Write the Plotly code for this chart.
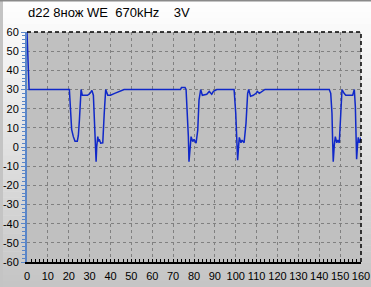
import plotly.graph_objects as go

# ---- data ----
x_vals = [0, 0.5, 1, 20.3, 21.1, 21.4, 22.2, 23, 24.1, 24.6, 25.1, 25.9,
          26.5, 27.5, 29, 30.2, 31.1, 31.8, 32.1, 32.6, 33.1, 33.4, 33.9, 34.3, 34.6,
          35.3, 36.3, 37, 37.7, 38.7, 40, 42, 43, 45.3, 46.5, 48, 55, 65, 73.5,
          74, 75.7, 76.2, 76.8, 77.3, 77.6, 78.1, 78.6, 79.4, 80, 81, 81.8, 82.4,
          83.2, 84, 86.1, 87.3, 88.5, 89.3, 90.9, 95, 99.2, 100, 100.4, 100.9,
          101.4, 101.7, 102.5, 103, 104, 104.9, 105.7, 106.2, 107.1, 108.4, 109.7,
          110.3, 111.3, 112.4, 114, 120, 130, 140, 144.8, 145.5, 146.1, 146.4,
          146.7, 147.2, 147.7, 148.4, 148.9, 149.6, 150.3, 150.9, 151.9, 152.7,
          156, 156.8, 157.3, 157.6, 157.9, 158.4, 158.7, 159.2, 159.7, 160]
y_vals = [60, 43, 30, 30, 15, 9, 5.4, 3, 3, 6, 14, 30,
          27, 27, 27, 28, 29.5, 27, 17.6, 3.6, -7.7, 0.2, 5.4, 2.8, 4,
          2, 2.2, 17.6, 30, 27, 27, 28, 28.5, 29.4, 30, 30, 30, 30, 30,
          31, 31, 30, 19.3, 5.4, -7.7, 1, 5.4, 2.8, 4, 2, 8.9, 24.5,
          30, 27, 27.5, 29, 27.5, 29, 30, 30, 30, 17.6, 3.6, -6.9,
          1, 5, 2.2, 3.6, 2.2, 12.2, 28, 30, 26.5, 27, 28,
          29, 28, 29, 30, 30, 30, 30, 30, 28, 17.6, 3.6,
          -7.7, 1, 5.4, 2.2, 3.6, 2.2, 14, 30, 28, 27,
          27, 30, 21, 7, -6.4, 2, 5, 2.2, 4.5, 5]

x_ticks = list(range(0, 161, 10))
y_ticks = list(range(-60, 61, 10))
title_text = "d22 8нож WE\u00a0\u00a0670kHz\u00a0\u00a0\u00a0\u00a03V"

# ---- layout geometry (pixels) ----
W, H = 371, 287
L, R, T, B = 27, 10, 32, 25
pw, ph = W - L - R, H - T - B


def px_x(p):
    return (p - L) / pw


def px_y(p):
    return (H - B - p) / ph


shapes = []
# vertical gradient background (white -> gray)
n = 48
for i in range(n):
    y0p = H * i / n
    y1p = H * (i + 1) / n + 0.5
    t = (i + 0.5) / n
    v = int(round(255 - (255 - 196) * t))
    shapes.append(dict(type="rect", xref="paper", yref="paper",
                       x0=px_x(0), x1=px_x(W), y0=px_y(y1p), y1=px_y(y0p),
                       fillcolor=f"rgb({v},{v},{v})", line_width=0, layer="below"))
# left frame strip & top border
shapes.append(dict(type="rect", xref="paper", yref="paper",
                   x0=px_x(0), x1=px_x(3), y0=px_y(H), y1=px_y(0),
                   fillcolor="#c4c4c4", line_width=0, layer="below"))
shapes.append(dict(type="rect", xref="paper", yref="paper",
                   x0=px_x(0), x1=px_x(W), y0=px_y(1.5), y1=px_y(0),
                   fillcolor="#8a8a8a", line_width=0, layer="below"))
# plot area
shapes.append(dict(type="rect", xref="paper", yref="paper",
                   x0=0, x1=1, y0=0, y1=1,
                   fillcolor="#c0c0c0", line_width=0, layer="below"))
# dashed black top & right borders
shapes.append(dict(type="line", xref="paper", yref="paper", x0=0, x1=1, y0=1, y1=1,
                   line=dict(color="black", width=1.5, dash="4px,3px"), layer="above"))
shapes.append(dict(type="line", xref="paper", yref="paper", x0=1, x1=1, y0=0, y1=1,
                   line=dict(color="black", width=1.5, dash="4px,3px"), layer="above"))

fig = go.Figure()
fig.add_trace(go.Scatter(x=x_vals, y=y_vals, mode="lines",
                         line=dict(color="#1028c8", width=1.5),
                         showlegend=False, hoverinfo="skip"))

font = "Liberation Sans, Arial, sans-serif"
fig.update_layout(
    width=W, height=H,
    margin=dict(l=L, r=R, t=T, b=B, pad=0, autoexpand=False),
    paper_bgcolor="white",
    plot_bgcolor="#c0c0c0",
    shapes=shapes,
    font=dict(family=font, size=11, color="black"),
    annotations=[dict(text=title_text, xref="paper", yref="paper",
                      x=px_x(26), y=px_y(12), xanchor="left", yanchor="middle",
                      showarrow=False, font=dict(family=font, size=13, color="black"))],
    xaxis=dict(range=[0, 160], tickvals=x_ticks, ticktext=[str(v) for v in x_ticks],
               tickangle=0, automargin=False, ticklabelstandoff=3,
               showgrid=True, gridcolor="#808080", griddash="3px,3px", gridwidth=1,
               zeroline=False, showline=True, linecolor="black", linewidth=2,
               ticks="inside", ticklen=3, tickcolor="black", tickwidth=1,
               minor=dict(dtick=2, ticks="inside", ticklen=3, tickcolor="black",
                          showgrid=False),
               tickfont=dict(size=11), fixedrange=True),
    yaxis=dict(range=[-60, 60], tickvals=y_ticks, ticktext=[str(v) for v in y_ticks],
               automargin=False,
               showgrid=True, gridcolor="#808080", griddash="3px,3px", gridwidth=1,
               zeroline=False, showline=True, linecolor="#5a86c8", linewidth=2,
               ticks="outside", ticklen=4, tickcolor="#5a86c8", tickwidth=1,
               minor=dict(dtick=2, ticks="outside", ticklen=3, tickcolor="#5a86c8",
                          showgrid=False),
               tickfont=dict(size=11), fixedrange=True),
)

fig.write_html("out.html")
